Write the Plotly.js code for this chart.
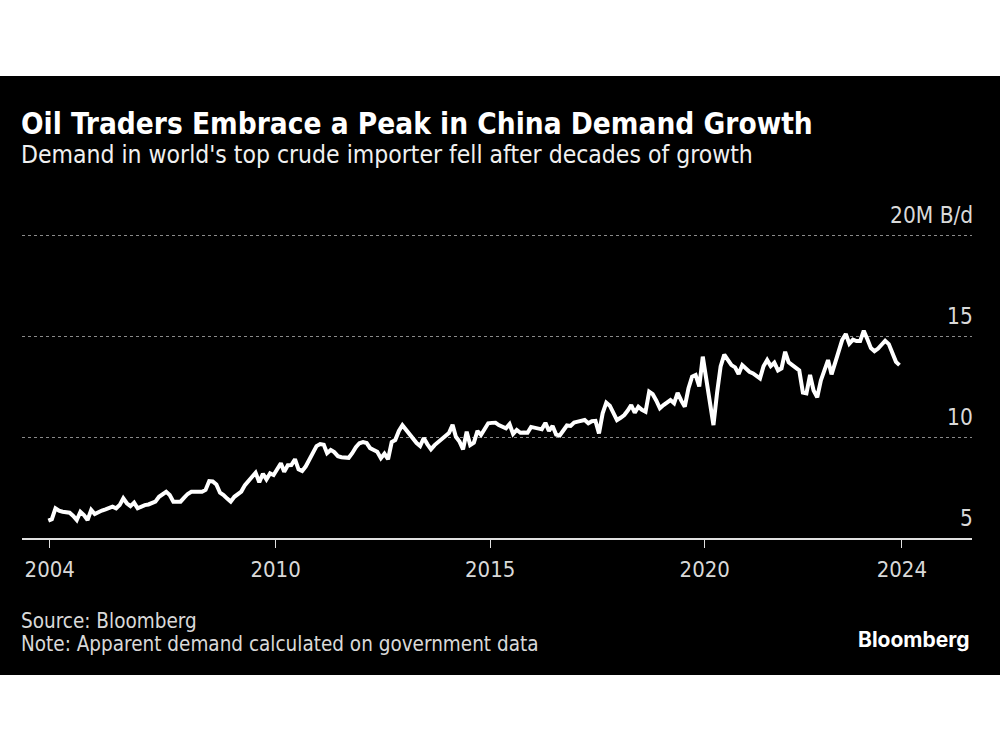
<!DOCTYPE html>
<html>
<head>
<meta charset="utf-8">
<script src="https://cdn.plot.ly/plotly-3.0.1.min.js"></script>
<style>
  html, body { margin: 0; padding: 0; background: #ffffff; width: 1000px; height: 750px; overflow: hidden; }
  #chart { position: absolute; left: 0; top: 76px; width: 1000px; height: 599px; }
</style>
</head>
<body>
<div id="chart"></div>
<script>
// Monthly apparent oil demand in China, million barrels per day
const firstMonth = '2004-09';
const demandValues = [
  5.86, 5.93, 6.47, 6.35, 6.3, 6.28, 6.25, 6.09, 5.89, 6.3, 6.14, 5.89,
  6.39, 6.19, 6.3, 6.36, 6.42, 6.5, 6.55, 6.47, 6.63, 6.97, 6.72, 6.58,
  6.75, 6.47, 6.58, 6.63, 6.66, 6.72, 6.8, 7.04, 7.15, 7.29, 7.13, 6.8,
  6.8, 6.8, 7.0, 7.18, 7.29, 7.3, 7.29, 7.29, 7.38, 7.82, 7.8, 7.65,
  7.24, 7.13, 6.95, 6.8, 7.04, 7.2, 7.3, 7.62, 7.8, 8.03, 8.23, 7.76,
  8.18, 7.9, 8.2, 8.12, 8.4, 8.7, 8.28, 8.6, 8.61, 8.9, 8.4, 8.32,
  8.55, 8.85, 9.19, 9.55, 9.65, 9.62, 9.2, 9.36, 9.25, 9.05, 9.0, 8.97,
  8.97, 9.2, 9.5, 9.69, 9.75, 9.7, 9.45, 9.36, 9.27, 8.95, 9.17, 8.9,
  9.75, 9.85, 10.3, 10.58, 10.35, 10.1, 9.85, 9.7, 9.55, 9.95, 9.65, 9.39,
  9.6, 9.75, 9.9, 10.02, 10.2, 10.6, 10.01, 9.77, 9.39, 10.26, 9.6, 9.72,
  10.3, 10.1, 10.4, 10.68, 10.7, 10.71, 10.59, 10.5, 10.43, 10.64, 10.15, 10.35,
  10.21, 10.22, 10.21, 10.5, 10.46, 10.4, 10.38, 10.7, 10.3, 10.55, 10.12, 10.08,
  10.3, 10.57, 10.55, 10.72, 10.76, 10.8, 10.84, 10.68, 10.78, 10.8, 10.18, 11.17,
  11.7, 11.55, 11.2, 10.84, 10.95, 11.09, 11.3, 11.58, 11.2, 11.5, 11.35, 11.25,
  12.24, 12.12, 11.8, 11.42, 11.58, 11.7, 11.83, 11.67, 12.19, 11.8, 11.5, 12.4,
  12.99, 13.07, 12.5, 13.98, 12.8, 11.7, 10.59, 12.2, 13.5, 14.08, 13.85, 13.56,
  13.45, 13.12, 13.56, 13.4, 13.23, 13.15, 13.05, 12.9, 13.5, 13.81, 13.51, 13.68,
  13.3, 13.4, 14.22, 13.7, 13.56, 13.45, 13.3, 12.2, 12.16, 13.07, 12.3, 11.97,
  12.8, 13.3, 13.81, 13.1, 13.7, 14.3, 14.8, 15.1, 14.62, 14.82, 14.75, 14.75,
  15.26, 14.85, 14.4, 14.25, 14.38, 14.58, 14.76, 14.6, 14.1, 13.72, 13.56
];

const xTickVals = ['2004-09-27', '2010-01-01', '2015-01-01', '2020-01-01', '2024-08-04'];
const xTickLabels = ['2004', '2010', '2015', '2020', '2024'];
const yTickVals = [5, 10, 15, 20];
const yTickLabels = ['5', '10', '15', '20M B/d'];

const titleText = 'Oil Traders Embrace a Peak in China Demand Growth';
const subtitleText = "Demand in world's top crude importer fell after decades of growth";
const sourceText = 'Source: Bloomberg';
const noteText = 'Note: Apparent demand calculated on government data';
const brandText = 'Bloomberg';

// Build monthly dates (mid-month) from the first month
function monthDates(start, n) {
  const [y0, m0] = start.split('-').map(Number);
  const out = [];
  for (let i = 0; i < n; i++) {
    const t = (m0 - 1) + i;
    const y = y0 + Math.floor(t / 12);
    const m = (t % 12) + 1;
    out.push(y + '-' + String(m).padStart(2, '0') + '-15');
  }
  return out;
}
const demandDates = monthDates(firstMonth, demandValues.length);

const FONT = "'DejaVu Sans Condensed', 'Liberation Sans Narrow', 'Roboto', sans-serif";
const LABEL = '#d9d9d9';

const trace = {
  type: 'scatter',
  mode: 'lines',
  x: demandDates,
  y: demandValues,
  line: { color: '#ffffff', width: 4, shape: 'linear' },
  hoverinfo: 'skip'
};

const annotations = [];
yTickVals.forEach((v, i) => {
  annotations.push({
    xref: 'paper', yref: 'y', x: 1, y: v, xanchor: 'right', yanchor: 'bottom',
    yshift: 5, xshift: 3, text: yTickLabels[i], showarrow: false,
    font: { family: FONT, size: 22.5, color: LABEL }
  });
});
annotations.push({
  xref: 'paper', yref: 'paper', x: 0, y: 1.357, xanchor: 'left', yanchor: 'middle',
  xshift: -3, text: '<b>' + titleText + '</b>', showarrow: false,
  font: { family: FONT, size: 29.5, color: '#ffffff' }
});
annotations.push({
  xref: 'paper', yref: 'paper', x: 0, y: 1.256, xanchor: 'left', yanchor: 'middle',
  xshift: -3, text: subtitleText, showarrow: false,
  font: { family: FONT, size: 24.5, color: '#f0f0f0' }
});
annotations.push({
  xref: 'paper', yref: 'paper', x: 0, y: -0.272, xanchor: 'left', yanchor: 'middle',
  xshift: -3, text: sourceText, showarrow: false,
  font: { family: FONT, size: 20.5, color: LABEL }
});
annotations.push({
  xref: 'paper', yref: 'paper', x: 0, y: -0.348, xanchor: 'left', yanchor: 'middle',
  xshift: -3, text: noteText, showarrow: false,
  font: { family: FONT, size: 20.5, color: LABEL }
});
annotations.push({
  xref: 'paper', yref: 'paper', x: 1, y: -0.334, xanchor: 'right', yanchor: 'middle',
  text: '<b>' + brandText + '</b>', showarrow: false,
  font: { family: "'Inter', 'Roboto', sans-serif", size: 21, color: '#ffffff' }
});

const layout = {
  width: 1000,
  height: 599,
  paper_bgcolor: '#000000',
  plot_bgcolor: '#000000',
  margin: { l: 22, r: 28, t: 157, b: 137, pad: 0 },
  showlegend: false,
  xaxis: {
    type: 'date',
    range: ['2004-02-04', '2026-03-24'],
    tickmode: 'array',
    tickvals: xTickVals,
    ticktext: xTickLabels,
    ticks: 'outside',
    ticklen: 8,
    tickwidth: 1,
    tickcolor: '#e0e0e0',
    showline: true,
    linecolor: '#e0e0e0',
    linewidth: 1.5,
    showgrid: false,
    zeroline: false,
    tickfont: { family: FONT, size: 22, color: LABEL },
    ticklabelstandoff: 3,
    fixedrange: true
  },
  yaxis: {
    range: [5, 20.1],
    tickmode: 'array',
    tickvals: yTickVals,
    showticklabels: false,
    showgrid: true,
    gridcolor: '#8a8a8a',
    griddash: 'dot',
    gridwidth: 1,
    zeroline: false,
    showline: false,
    ticks: '',
    fixedrange: true
  },
  annotations: annotations
};

Plotly.newPlot('chart', [trace], layout, { displayModeBar: false, staticPlot: true });
</script>
</body>
</html>
